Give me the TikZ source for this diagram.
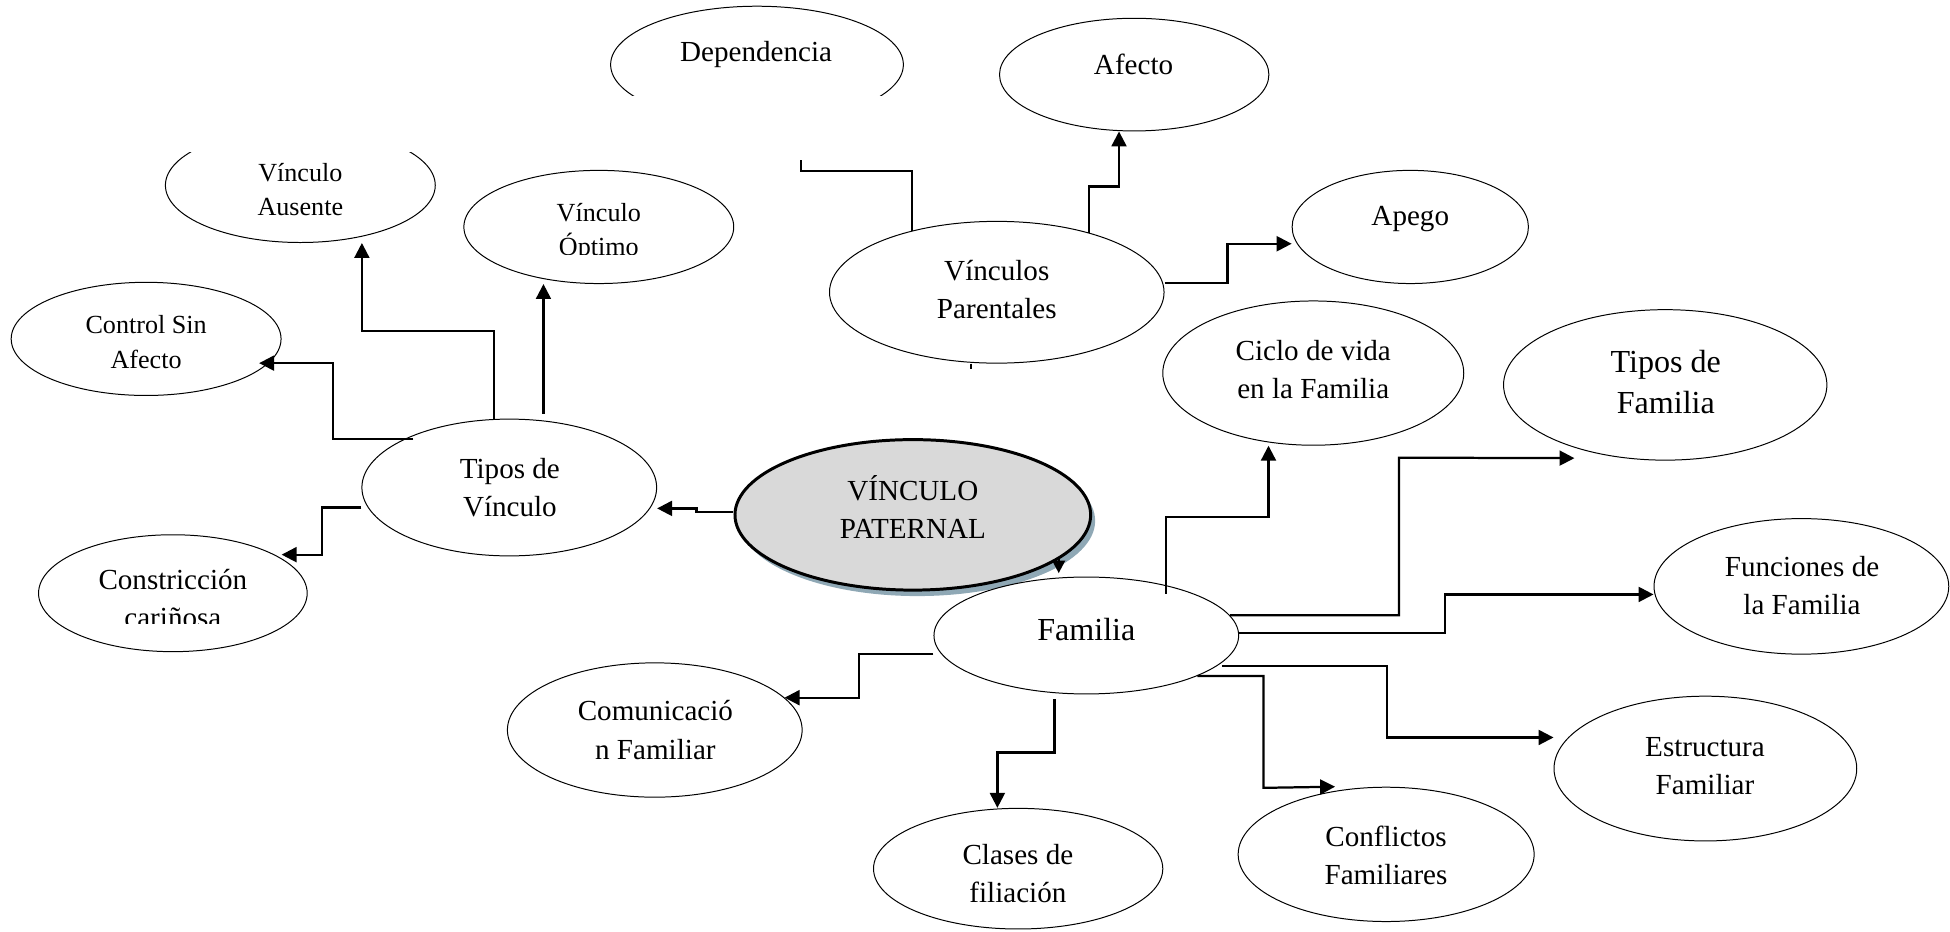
\documentclass[tikz,border=0pt]{standalone}
\usepackage{fontspec}
\setmainfont{Liberation Serif}
\usetikzlibrary{shapes.geometric,arrows.meta,shadows}
\definecolor{patfill}{HTML}{D9D9D9}
\definecolor{patshadow}{HTML}{8FA8B5}
\begin{document}
\begin{tikzpicture}[x=0.5pt,y=-0.5pt,
  ell/.style={ellipse, draw, line width=0.4pt, inner sep=0pt},
  conn/.style={line width=0.9pt},
  arr/.style={conn, -{Triangle[length=6pt,width=6pt]}},
  tS/.style={align=center, inner sep=0pt, yshift=-0.9pt, font=\fontsize{10.5}{13.8}\selectfont},
  tN/.style={align=center, inner sep=0pt, yshift=-0.9pt, font=\fontsize{11.7}{15.4}\selectfont},
  tL/.style={align=center, inner sep=0pt, yshift=-0.9pt, font=\fontsize{12.9}{16.5}\selectfont},
  patstyle/.style={ellipse, draw, line width=1.2pt, fill=patfill, inner sep=0pt,
    drop shadow={shadow xshift=1.8pt, shadow yshift=-2.4pt, fill=patshadow, opacity=1}}
]
\useasboundingbox (0,0) rectangle (1568,749);

% ---------- ellipses ----------
\begin{scope}
  \clip (0,0) rectangle (1568,77);
  \node[ell, minimum width=117.7pt, minimum height=47pt] (dep) at (608.7,52) {};
\end{scope}
\node[ell, minimum width=108.3pt, minimum height=45.3pt] (afe) at (912,60) {};
\begin{scope}
  \clip (0,123) rectangle (1568,749);
  \node[ell, minimum width=108.5pt, minimum height=46pt] (aus) at (241.5,149) {};
\end{scope}
\node[ell, minimum width=108.5pt, minimum height=45.5pt] (opt) at (481.5,182.5) {};
\node[ell, minimum width=108.5pt, minimum height=45.5pt] (csa) at (117.5,272.5) {};
\node[ell, minimum width=134.5pt, minimum height=57pt] (vp) at (801.5,235) {};
\node[ell, minimum width=95pt, minimum height=45.5pt] (ape) at (1134,182.5) {};
\node[ell, minimum width=121pt, minimum height=58pt] (cic) at (1056,300) {};
\node[ell, minimum width=130pt, minimum height=60.5pt] (tfa) at (1339,309.5) {};
\node[ell, minimum width=118.5pt, minimum height=55pt] (tv) at (409.5,392) {};
\node[patstyle, minimum width=143pt, minimum height=60.5pt] (pat) at (734,414) {};
\node[ell, minimum width=118.5pt, minimum height=54.5pt] (fun) at (1448.5,471.5) {};
\node[ell, minimum width=108pt, minimum height=47pt] (con) at (139,477) {};
\node[ell, minimum width=122.5pt, minimum height=47pt] (fam) at (873.5,511) {};
\node[ell, minimum width=118.5pt, minimum height=54pt] (com) at (526.5,587) {};
\node[ell, minimum width=121.7pt, minimum height=58.2pt] (est) at (1371.3,618) {};
\node[ell, minimum width=116.3pt, minimum height=48.5pt] (cla) at (818.7,698.5) {};
\node[ell, minimum width=119pt, minimum height=54pt] (cnf) at (1114.6,687) {};

% ---------- texts ----------
\node[tN] (dep-t) at (608,41.6) {\strut Dependencia};
\node[tN] (afe-t) at (911.5,52) {\strut Afecto};
\node[tS] (aus-t) at (241.5,152.5) {\strut Vínculo\\\strut Ausente};
\begin{scope}
  \clip (0,0) rectangle (1568,204.5);
  \node[tS] (opt-t) at (481.5,184.5) {\strut Vínculo\\\strut Óptimo};
\end{scope}
\node[tS] (csa-t) at (117.5,275) {\strut Control Sin\\\strut Afecto};
\node[tN] (vp-t) at (801.5,233) {\strut Vínculos\\\strut Parentales};
\node[tN] (ape-t) at (1134,173) {\strut Apego};
\node[tN] (cic-t) at (1056,297) {\strut Ciclo de vida\\\strut en la Familia};
\node[tL] (tfa-t) at (1339.5,307.5) {\strut Tipos de\\\strut Familia};
\node[tN] (tv-t) at (410,392) {\strut Tipos de\\\strut Vínculo};
\node[tN] (pat-t) at (734,409.5) {\strut VÍNCULO\\\strut PATERNAL};
\node[tN] (fun-t) at (1449,471) {\strut Funciones de\\\strut la Familia};
\begin{scope}
  \clip (0,0) rectangle (1568,501);
  \node[tN] (con-t) at (139,481.5) {\strut Constricción\\\strut cariñosa};
\end{scope}
\node[tL] (fam-t) at (873.5,507) {\strut Familia};
\node[tN] (com-t) at (527,587) {\strut Comunicació\\\strut n Familiar};
\node[tN] (est-t) at (1371,615.8) {\strut Estructura\\\strut Familiar};
\node[tN] (cla-t) at (818.5,702.7) {\strut Clases de\\\strut filiación};
\node[tN] (cnf-t) at (1114.5,688.2) {\strut Conflictos\\\strut Familiares};

% ---------- connectors ----------
\draw[arr] (pat.west |- 0,411.5) -- (560,411.5) -- (560,408.8) -- (tv.east |- 0,408.8);
\draw[arr] (tv.north -| 397,0) -- (397,266) -- (291,266) -- (aus.south -| 291,0);
\draw[arr] ([yshift=2pt]tv.north -| 437,0) -- (opt.south -| 437,0);
\draw[arr] ([xshift=3.5pt]tv.north west) -| (268,292) -- ([xshift=-4pt]csa.-11 |- 0,292);
\draw[arr] ([yshift=-8pt]tv.west) -| (259,446) -- ([xshift=3pt]con.21 |- 0,446);

\coordinate (depstub) at (644,128.7);
\draw[conn] (vp.144) |- (644,137.3) -- (depstub);
\draw[arr] (vp.33) |- (899.8,150) -- (afe.south -| 899.8,0);
\draw[arr] (vp.east |- 0,227.3) -| (987,196) -- (ape.west |- 0,196);
\draw[conn] (vp.south -| 780.8,0) -- ++(0,4);

\draw[line width=0.9pt,-{Triangle[length=5pt,width=5pt]}] (pat.-17) -- ++(0,11);

\draw[arr] ([yshift=-7pt]fam.north -| 937.6,0) |- (1020,416) -- (cic.south -| 1020,0);
\draw[arr] (fam.8) -| (1125,368) -- ([yshift=1pt]tfa.south -| 1266,0);
\draw[arr] (fam.east |- 0,509) -| (1162,478) -- (fun.west |- 0,478);
\draw[arr] ([xshift=2pt]fam.-13) -| (1115,593) -- (est.west |- 0,593);
\draw[arr] (fam.-20) -| (1016,633.5) -- (cnf.north -| 1073.5,0);
\draw[arr] ([yshift=-2pt]fam.south -| 848,0) |- (802,605) -- (cla.north -| 802,0);
\draw[arr] (fam.west |- 0,526) -| (691,561) -- (com.14 |- 0,561);
\end{tikzpicture}
\end{document}
